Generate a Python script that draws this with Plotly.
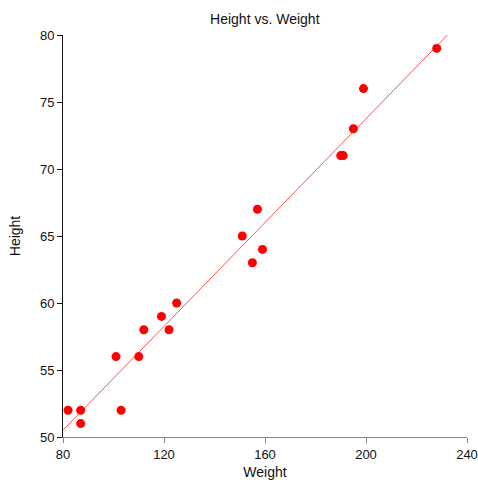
import numpy as np
import plotly.graph_objects as go

weight = [82, 87, 87, 103, 101, 110, 112, 122, 119, 125, 151, 155, 157, 159, 190, 191, 195, 199, 228]
height = [52, 52, 51, 52, 56, 56, 58, 58, 59, 60, 65, 63, 67, 64, 71, 71, 73, 76, 79]
x_ticks = [80, 120, 160, 200, 240]
y_ticks = [50, 55, 60, 65, 70, 75, 80]

slope, intercept = np.polyfit(weight, height, 1)
line_x = [80, 240]
line_y = [intercept + slope * v for v in line_x]

font = "Arial, 'Liberation Sans', sans-serif"
fig = go.Figure()
fig.add_trace(go.Scatter(x=line_x, y=line_y, mode="lines",
                         line=dict(color="rgba(255,50,50,0.85)", width=1), hoverinfo="skip"))
fig.add_trace(go.Scatter(x=weight, y=height, mode="markers",
                         marker=dict(color="#ff0000", size=9, line=dict(width=0))))
fig.update_layout(
    width=478, height=485,
    margin=dict(l=63, r=11, t=35, b=48, autoexpand=False),
    paper_bgcolor="white", plot_bgcolor="white",
    showlegend=False,
    title=dict(text="Height vs. Weight", x=0.554, xanchor="center", y=0.961, yanchor="middle",
               font=dict(family=font, size=14, color="#111")),
    font=dict(family=font, color="#111"),
)
fig.update_xaxes(range=[80, 240], tickvals=x_ticks, showgrid=False, zeroline=False,
                 automargin=False,
                 showline=True, linecolor="#888", linewidth=1,
                 ticks="outside", ticklen=5, tickcolor="#888",
                 tickfont=dict(size=13, color="#111"),
                 title=dict(text="Weight", font=dict(size=14, color="#111"), standoff=6))
fig.update_yaxes(range=[50, 80], tickvals=y_ticks, showgrid=False, zeroline=False,
                 automargin=False,
                 showline=True, linecolor="#111", linewidth=1,
                 ticks="outside", ticklen=5, tickcolor="#111",
                 tickfont=dict(size=13, color="#111"),
                 title=dict(text="Height", font=dict(size=14, color="#111"), standoff=16))
fig.write_html("out.html", config={"displayModeBar": False},
               post_script="document.body.style.margin='0';document.body.style.overflow='hidden';")
